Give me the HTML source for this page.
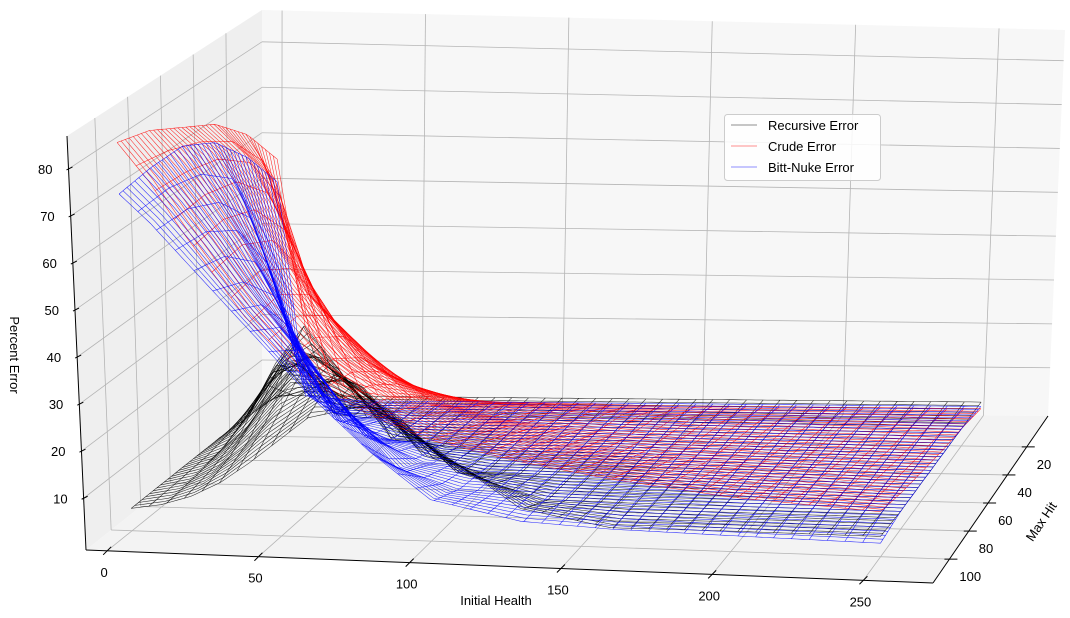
<!DOCTYPE html>
<html><head><meta charset="utf-8"><style>
html,body{margin:0;padding:0;background:#fff;}
svg{display:block;font-family:"Liberation Sans",sans-serif;}
</style></head><body>
<svg id="chart" width="1070" height="618" viewBox="0 0 1070 618" xmlns="http://www.w3.org/2000/svg">
<g id="panes"></g>
<g id="grid"></g>
<g id="series"></g>
<g id="axes"></g>
<text x="0" y="0" transform="translate(10,355) rotate(90)" text-anchor="middle" font-size="13">Percent Error</text>
<text x="496" y="605" text-anchor="middle" font-size="13">Initial Health</text>
<text x="0" y="0" transform="translate(1045,524) rotate(-56)" text-anchor="middle" font-size="13">Max Hit</text>
<g>
<rect x="724.5" y="114.5" width="156" height="66" rx="3" fill="#fff" fill-opacity="0.85" stroke="#ccc"/>
<line x1="731" y1="125" x2="757" y2="125" stroke="#000" stroke-opacity="0.35" stroke-width="1.2"/>
<text x="768" y="130" font-size="13">Recursive Error</text>
<line x1="731" y1="146" x2="757" y2="146" stroke="#f00" stroke-opacity="0.35" stroke-width="1.2"/>
<text x="768" y="151" font-size="13">Crude Error</text>
<line x1="731" y1="167" x2="757" y2="167" stroke="#00f" stroke-opacity="0.35" stroke-width="1.2"/>
<text x="768" y="172" font-size="13">Bitt-Nuke Error</text>
</g>
</svg>
<script>
// ---- data ----
const healthValues = [0,10,20,30,40,60,80,100,130,160,200,250];
const maxHitValues = [1,20,40,60,80,100];
const recursiveError = [
 [3,3,3,3,3,3,3,3,3,3,3,3],
 [3.5,15,15,3.5,3,3,3,3,3,3,3,3],
 [3.8,8.5,20.7,29,20.7,3.8,3,3,3,3,3,3],
 [3.8,6.1,11.8,20.7,28,20.7,6.1,3,3,3,3,3],
 [3.8,5.3,8.5,13.7,20.7,29,20.7,8.5,3.2,3,3,3],
 [3.8,4.8,6.8,10,14.5,24.7,28,20,6.8,3.3,3.5,3.5]
];
const crudeError = [
 [55,18,6,4,3,2.5,2,2,1.5,1.5,1.5,1.5],
 [65,55,35,22,16,10,7,6,5,4,3.5,3],
 [72,66,55,40,30,18,12,9,7,6,5,4],
 [76,71,63,52,42,27,18,14,10,8,7,5.5],
 [80,73,65,56,47,32,23,18,14,11,9,7],
 [82,74,64,55,46,33,26,21,17,14,11,9]
];
const bittNukeError = [
 [50,3,2.5,2,2,2,2,2,2,2,2,2],
 [60,32,8,4,3.5,3,3,3,3,3,3,3],
 [68,55,38,20,8,4,3.5,3,3,3,3,3],
 [72,62,52,40,28,10,5,4,3.5,3,3,3],
 [72,65,57,48,40,24,9,5,4,3.5,3,3],
 [71,65,58,51,44,30,18,8,4,3,2.5,2]
];
const healthTicks = [0,50,100,150,200,250];
const maxHitTicks = [20,40,60,80,100];
const zTicks = [10,20,30,40,50,60,70,80];

// ---- projection ----
const HMIN=-7,HMAX=273,MMIN=-2,MMAX=117,ZMIN=-1,ZMAX=87;
const C={ // [h][m][z]
 '000':[262,410],'100':[1048,416],'010':[86,550],'110':[933,583],
 '001':[262,10],'101':[1065,30],'011':[67,136],'111':[929,186]};
function proj(h,m,z){
 const a=(h-HMIN)/(HMAX-HMIN), b=(m-MMIN)/(MMAX-MMIN), c=(z-ZMIN)/(ZMAX-ZMIN);
 let x=0,y=0;
 for(const k in C){
  const w=(k[0]==='1'?a:1-a)*(k[1]==='1'?b:1-b)*(k[2]==='1'?c:1-c);
  x+=w*C[k][0]; y+=w*C[k][1];
 }
 return [x,y];
}
function seg(arr,v){let j=0;while(j<arr.length-2&&v>arr[j+1])j++;return [j,(v-arr[j])/(arr[j+1]-arr[j])];}
function val(grid,h,m){
 const [i,t]=seg(healthValues,h),[j,u]=seg(maxHitValues,m);
 const a=grid[j][i],b=grid[j][i+1],c=grid[j+1][i],d=grid[j+1][i+1];
 return (a*(1-t)+b*t)*(1-u)+(c*(1-t)+d*t)*u;
}
const NS='http://www.w3.org/2000/svg';
function mk(parent,tag,attrs){const e=document.createElementNS(NS,tag);for(const k in attrs)e.setAttribute(k,attrs[k]);parent.appendChild(e);return e;}
function pts(list){return list.map(p=>p[0].toFixed(1)+','+p[1].toFixed(1)).join(' ');}

// panes
const panes=document.getElementById('panes');
let e;
e=mk(panes,'polygon',{points:pts([proj(HMIN,MMIN,ZMIN),proj(HMIN,MMAX,ZMIN),proj(HMIN,MMAX,ZMAX),proj(HMIN,MMIN,ZMAX)]),fill:'#efefef'});


e=mk(panes,'polygon',{points:pts([proj(HMIN,MMIN,ZMIN),proj(HMAX,MMIN,ZMIN),proj(HMAX,MMIN,ZMAX),proj(HMIN,MMIN,ZMAX)]),fill:'#f7f7f7'});


e=mk(panes,'polygon',{points:pts([proj(HMIN,MMIN,ZMIN),proj(HMAX,MMIN,ZMIN),proj(HMAX,MMAX,ZMIN),proj(HMIN,MMAX,ZMIN)]),fill:'#f3f3f3'});



// grid
const grid=document.getElementById('grid');
const gs={stroke:'#b5b5b5','stroke-width':0.8,fill:'none'};
function gline(p,q,name){const l=mk(grid,'line',Object.assign({x1:p[0],y1:p[1],x2:q[0],y2:q[1]},gs));}
healthTicks.forEach(h=>{gline(proj(h,MMIN,ZMIN),proj(h,MMIN,ZMAX),'back-grid-health');gline(proj(h,MMIN,ZMIN),proj(h,MMAX,ZMIN),'floor-grid-health');});
maxHitTicks.forEach(m=>{gline(proj(HMIN,m,ZMIN),proj(HMIN,m,ZMAX),'left-grid-maxhit');gline(proj(HMIN,m,ZMIN),proj(HMAX,m,ZMIN),'floor-grid-maxhit');});
zTicks.forEach(z=>{gline(proj(HMIN,MMAX,z),proj(HMIN,MMIN,z),'left-grid-z');gline(proj(HMIN,MMIN,z),proj(HMAX,MMIN,z),'back-grid-z');});

// series wireframes
const ser=document.getElementById('series');
function wire(grid2,color,name){
 const g=mk(ser,'g',{stroke:color,'stroke-width':0.55,fill:'none','stroke-opacity':0.85});
 
 
 const h0=healthValues[0],h1=healthValues[healthValues.length-1];
 const m0=maxHitValues[0],m1=maxHitValues[maxHitValues.length-1];
 for(let m=m0;m<=m1+0.01;m+=(m1-m0)/40){
  const p=[];for(let h=h0;h<=h1+0.01;h+=2)p.push(proj(h,m,val(grid2,h,m)));
  const pl=mk(g,'polyline',{points:pts(p)});
  
  
 }
 for(let h=h0;h<=h1+0.01;h+=(h1-h0)/42){
  const p=[];for(let m=m0;m<=m1+0.01;m+=(m1-m0)/40)p.push(proj(h,m,val(grid2,h,m)));
  const pl=mk(g,'polyline',{points:pts(p)});
  
  
 }
}
wire(recursiveError,'#000','recursive-error-surface');
wire(crudeError,'#f00','crude-error-surface');
wire(bittNukeError,'#00f','bitt-nuke-error-surface');

// axes
const ax=document.getElementById('axes');
function aline(p,q,name,w){const l=mk(ax,'line',{x1:p[0],y1:p[1],x2:q[0],y2:q[1],stroke:'#000','stroke-width':w||1});}
aline(proj(HMIN,MMAX,ZMIN),proj(HMIN,MMAX,ZMAX),'z-axis-line');
aline(proj(HMIN,MMAX,ZMIN),proj(HMAX,MMAX,ZMIN),'x-axis-line');
aline(proj(HMAX,MMIN,ZMIN),proj(HMAX,MMAX,ZMIN),'y-axis-line');
function tlabel(x,y,s,name,anchor){const t=mk(ax,'text',{x:x,y:y,'font-size':13,'text-anchor':anchor||'middle'});t.textContent=s;}
zTicks.forEach(z=>{const p=proj(HMIN,MMAX,z);aline([p[0]-2,p[1]+1],[p[0]+4,p[1]-2],'z-tick');tlabel(p[0]-16,p[1]+5,String(z),'z-tick-label','end');});
healthTicks.forEach(h=>{const p=proj(h,MMAX,ZMIN);aline([p[0]+4,p[1]-4],[p[0]-4,p[1]+4],'x-tick');tlabel(p[0]-3,p[1]+26,String(h),'x-tick-label');});
maxHitTicks.forEach(m=>{const p=proj(HMAX,m,ZMIN);aline([p[0]-5,p[1]],[p[0]+8,p[1]],'y-tick');tlabel(p[0]+10,p[1]+22,String(m),'y-tick-label','start');});
</script>
</body></html>
